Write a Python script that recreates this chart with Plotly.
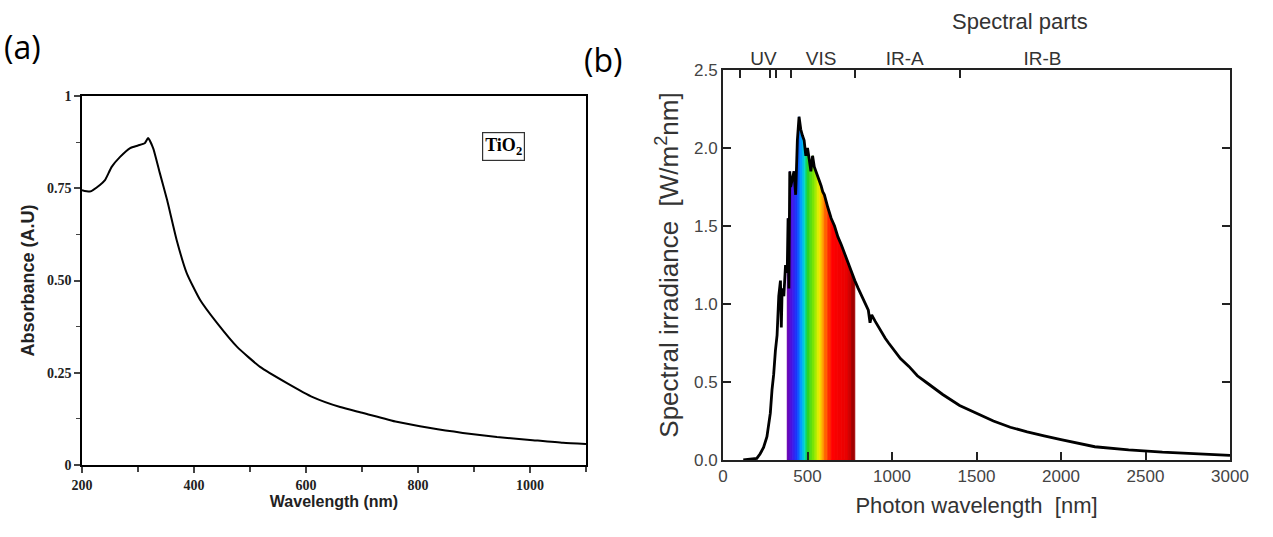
import plotly.graph_objects as go

# ---------------- data: (a) TiO2 absorbance ----------------
abs_nm = [200, 214, 232, 241, 253, 268, 286, 300, 312, 318, 327, 339, 352, 369, 387,
          411, 441, 477, 518, 566, 612, 661, 702, 762, 822, 880, 941, 1000, 1059, 1100]
abs_val = [0.745, 0.741, 0.759, 0.772, 0.808, 0.835, 0.859, 0.866, 0.872, 0.886, 0.859,
           0.791, 0.718, 0.610, 0.520, 0.447, 0.385, 0.320, 0.266, 0.222, 0.184, 0.157,
           0.141, 0.117, 0.100, 0.087, 0.076, 0.068, 0.060, 0.057]
abs_ticks = [200, 400, 600, 800, 1000]
abs_tick_text = ["200", "400", "600", "800", "1000"]
abs_yticks = [0, 0.25, 0.5, 0.75, 1]
abs_ytick_text = ["0", "0.25", "0.50", "0.75", "1"]

# ---------------- data: (b) solar spectral irradiance ----------------
solar_nm = [120, 200, 220, 240, 260, 280, 290, 300, 310, 320, 330, 340, 345, 350, 360,
            370, 380, 385, 390, 395, 400, 410, 420, 430, 440, 450, 460, 470, 480, 490,
            500, 510, 520, 530, 540, 550, 560, 570, 580, 590, 600, 620, 640, 660, 680,
            700, 720, 740, 760, 780, 800, 820, 840, 860, 870, 880, 900, 920, 940, 960,
            980, 1000, 1050, 1100, 1150, 1200, 1300, 1400, 1500, 1600, 1700, 1800, 1900,
            2000, 2200, 2400, 2600, 2800, 3000]
solar_val = [0.0, 0.01, 0.04, 0.08, 0.15, 0.30, 0.45, 0.55, 0.70, 0.80, 1.05, 1.15, 0.85,
             1.10, 1.05, 1.25, 1.20, 1.55, 1.10, 1.85, 1.75, 1.80, 1.85, 1.70, 2.05, 2.20,
             2.12, 2.08, 2.05, 1.95, 2.00, 1.93, 1.85, 1.95, 1.88, 1.85, 1.82, 1.80, 1.76,
             1.72, 1.70, 1.62, 1.55, 1.50, 1.43, 1.38, 1.32, 1.26, 1.20, 1.15, 1.10, 1.05,
             1.00, 0.96, 0.88, 0.93, 0.89, 0.85, 0.82, 0.78, 0.75, 0.72, 0.65, 0.60, 0.54,
             0.50, 0.42, 0.35, 0.30, 0.25, 0.21, 0.18, 0.155, 0.13, 0.085, 0.065, 0.05,
             0.04, 0.03]

visible_range = [380, 780]
part_bounds = [100, 280, 315, 400, 780, 1400]
part_labels = ["UV", "VIS", "IR-A", "IR-B"]
part_label_pos = [240, 580, 1075, 1890]

# ---------------- style helpers ----------------
color_stops = [(380, (110, 0, 170)), (410, (70, 20, 230)), (440, (20, 60, 255)),
               (465, (0, 160, 255)), (485, (0, 220, 200)), (500, (30, 210, 40)),
               (540, (130, 230, 0)), (570, (240, 240, 0)), (590, (255, 170, 0)),
               (620, (255, 60, 0)), (650, (255, 0, 0)), (740, (230, 0, 0)),
               (780, (140, 0, 0))]


def wl_color(w):
    if w <= color_stops[0][0]:
        c = color_stops[0][1]
    elif w >= color_stops[-1][0]:
        c = color_stops[-1][1]
    else:
        for (w0, c0), (w1, c1) in zip(color_stops[:-1], color_stops[1:]):
            if w0 <= w <= w1:
                t = (w - w0) / (w1 - w0)
                c = tuple(int(round(a + (b - a) * t)) for a, b in zip(c0, c1))
                break
    return "rgb(%d,%d,%d)" % c


W, H = 1273, 537


def px_x(p):
    return p / W


def px_y(p):
    return 1 - p / H


fig = go.Figure()

# (a) curve
fig.add_trace(go.Scatter(x=abs_nm, y=abs_val, mode="lines",
                         line=dict(color="black", width=2, shape="spline", smoothing=0.5),
                         xaxis="x", yaxis="y", showlegend=False, hoverinfo="x+y"))

# (b) rainbow fill under the visible part
for i in range(len(solar_nm) - 1):
    x0, x1 = solar_nm[i], solar_nm[i + 1]
    if x0 >= visible_range[0] and x1 <= visible_range[1]:
        col = wl_color((x0 + x1) / 2)
        fig.add_trace(go.Scatter(x=[x0, x0, x1, x1, x0], y=[0, solar_val[i], solar_val[i + 1], 0, 0],
                                 mode="lines", fill="toself", fillcolor=col,
                                 line=dict(color=col, width=0.8),
                                 xaxis="x2", yaxis="y2", showlegend=False, hoverinfo="skip"))

# (b) curve
fig.add_trace(go.Scatter(x=solar_nm, y=solar_val, mode="lines",
                         line=dict(color="black", width=2.8),
                         xaxis="x2", yaxis="y2", showlegend=False))

# invisible traces to activate top axes
fig.add_trace(go.Scatter(x=[0, 3000], y=[0, 0], mode="lines", line=dict(width=0),
                         xaxis="x3", yaxis="y2", showlegend=False, hoverinfo="skip"))
fig.add_trace(go.Scatter(x=[0, 3000], y=[0, 0], mode="lines", line=dict(width=0),
                         xaxis="x4", yaxis="y2", showlegend=False, hoverinfo="skip"))

gray = "#444444"
serif_tick = dict(family="Liberation Serif", size=14, color="#222")

fig.update_layout(
    width=W, height=H,
    margin=dict(l=0, r=0, t=0, b=0, autoexpand=False),
    paper_bgcolor="white", plot_bgcolor="white",
    xaxis=dict(domain=[px_x(82), px_x(586)], range=[200, 1100], anchor="y", automargin=False,
               tickvals=abs_ticks, ticktext=["<b>%s</b>" % t for t in abs_tick_text],
               ticks="outside", ticklen=6, tickwidth=1.5,
               minor=dict(dtick=100, tick0=0, ticks="outside", ticklen=5, tickwidth=1.5),
               showline=True, linewidth=1.5, linecolor="black", mirror=True, showgrid=False,
               zeroline=False, tickfont=serif_tick,
               title=dict(text="<b>Wavelength (nm)</b>", standoff=4,
                          font=dict(family="Liberation Sans", size=16, color="#222"))),
    yaxis=dict(domain=[px_y(465), px_y(96)], range=[0, 1], anchor="x", automargin=False,
               tickvals=abs_yticks, ticktext=["<b>%s</b>" % t for t in abs_ytick_text],
               ticks="outside", ticklen=6, tickwidth=1.5,
               minor=dict(dtick=0.125, tick0=0, ticks="outside", ticklen=4, tickwidth=1.2),
               showline=True, linewidth=1.5, linecolor="black", mirror=True, showgrid=False,
               zeroline=False, tickfont=serif_tick,
               title=dict(text="<b>Absorbance (A.U)</b>", standoff=8,
                          font=dict(family="Liberation Sans", size=18, color="#222"))),
    xaxis2=dict(domain=[px_x(723), px_x(1230)], range=[0, 3000], anchor="y2", automargin=False,
                dtick=500, ticks="inside", ticklen=8, tickwidth=1.5, tickcolor="#222",
                showline=True, linewidth=2, linecolor="#222", mirror=True, showgrid=False,
                zeroline=False, tickfont=dict(family="Liberation Sans", size=17, color=gray),
                title=dict(text="Photon wavelength  [nm]", standoff=12,
                           font=dict(family="Liberation Sans", size=22, color="#333"))),
    yaxis2=dict(domain=[px_y(460), px_y(70)], range=[0, 2.5], anchor="x2", automargin=False,
                dtick=0.5, tickformat=".1f", ticks="inside", ticklen=8, tickwidth=1.5, tickcolor="#222",
                showline=True, linewidth=2, linecolor="#222", mirror="ticks", showgrid=False,
                zeroline=False, tickfont=dict(family="Liberation Sans", size=17, color=gray),
                title=dict(text="Spectral irradiance  [W/m<sup>2</sup>nm]", standoff=8,
                           font=dict(family="Liberation Sans", size=26, color="#333"))),
    xaxis3=dict(range=[0, 3000], overlaying="x2", anchor="y2", side="top", automargin=False,
                tickvals=part_bounds, ticks="inside", ticklen=8, tickwidth=1.5, tickcolor="#222",
                showticklabels=False, showgrid=False, zeroline=False, showline=False),
    xaxis4=dict(range=[0, 3000], overlaying="x2", anchor="y2", side="top", automargin=False,
                tickvals=part_label_pos, ticktext=part_labels, ticks="",
                showgrid=False, zeroline=False, showline=False,
                tickfont=dict(family="Liberation Sans", size=19, color="#333")),
    annotations=[
        dict(text="Spectral parts", xref="paper", yref="paper", x=px_x(1020), y=px_y(21),
             xanchor="center", yanchor="middle", showarrow=False,
             font=dict(family="Liberation Sans", size=22, color="#333")),
        dict(text="(a)", xref="paper", yref="paper", x=px_x(2), y=px_y(46), xanchor="left",
             yanchor="middle", showarrow=False,
             font=dict(family="Open Sans", size=32, color="black")),
        dict(text="(b)", xref="paper", yref="paper", x=px_x(582), y=px_y(60), xanchor="left",
             yanchor="middle", showarrow=False,
             font=dict(family="Open Sans", size=32, color="black")),
        dict(text="<b>TiO<sub>2</sub></b>", xref="x", yref="y", x=952, y=0.862,
             showarrow=False, bordercolor="#333", borderwidth=1.2, borderpad=2,
             font=dict(family="Liberation Serif", size=18, color="black")),
    ],
)

fig.write_html("out.html")
